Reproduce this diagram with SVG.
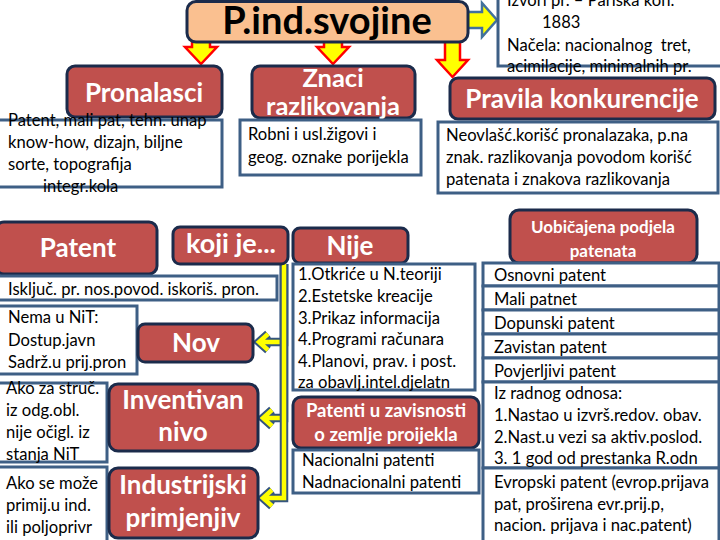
<svg xmlns="http://www.w3.org/2000/svg" width="720" height="540" viewBox="0 0 720 540">
<defs>
<style>
.red{fill:#C0504D;stroke:#1B2B4B;stroke-width:3}
.tb{fill:#FFFFFF;stroke:#3E5F85;stroke-width:3}
.h{font-family:Lato,"Liberation Sans",sans-serif;font-weight:bold;fill:#FFFFFF;text-anchor:middle}
.t{font-family:Lato,"Liberation Sans",sans-serif;font-size:16.6px;fill:#000000;white-space:pre}
.dn{fill:#FFFF00;stroke:#FF0000;stroke-width:2.5;stroke-linejoin:miter}
.co{fill:none;stroke:#34557F;stroke-width:8.5;stroke-linejoin:miter}
.ci{fill:none;stroke:#FFFF00;stroke-width:4.5;stroke-linejoin:miter}
</style>
</defs>
<rect width="720" height="540" fill="#FFFFFF"/>

<g id="connectors">
<polygon class="dn" points="192,41 210,41 210,47 217,47 201,64 185,47 192,47"/>
<polygon class="dn" points="324,41 342,41 342,47 349,47 333,64 317,47 324,47"/>
<polygon class="dn" points="445,41 460,41 460,60 468,60 452.5,77 437,60 445,60"/>
<polygon points="466,12 482,12 482,3 497,20 482,37 482,28 466,28" fill="#FFFF00" stroke="#41719C" stroke-width="2.5"/>
<path class="co" d="M284,264 V342 H259 M268,334 L259,342 L268,350"/>
<path class="ci" d="M284,264 V342 H259 M268,334 L259,342 L268,350"/>
<path class="co" d="M284,264 V418 H263 M272,410 L263,418 L272,426"/>
<path class="ci" d="M284,264 V418 H263 M272,410 L263,418 L272,426"/>
<path class="co" d="M284,264 V498 H263 M272,490 L263,498 L272,506"/>
<path class="ci" d="M284,264 V498 H263 M272,490 L263,498 L272,506"/>
</g>

<g id="title">
<rect x="187" y="1.5" width="281" height="40.5" rx="9" fill="#FAC090" stroke="#1B2B4B" stroke-width="3"/>
<text x="327" y="34" font-family="Lato,'Liberation Sans',sans-serif" font-weight="bold" font-size="38" text-anchor="middle" fill="#000000">P.ind.svojine</text>
</g>

<g id="izvori">
<rect x="498" y="-4" width="224" height="70" class="tb"/>
<text class="t" x="507" y="6">Izvori pr. – Pariska kon.</text>
<text class="t" x="542" y="28">1883</text>
<text class="t" x="507" y="51">Načela: nacionalnog  tret,</text>
<text class="t" x="507" y="72">acimilacije, minimalnih pr.</text>
</g>

<g id="pronalasci">
<rect x="67" y="66" width="155" height="51" rx="8" class="red"/>
<text class="h" x="144" y="102" font-size="26">Pronalasci</text>
</g>
<g id="pronalasci-tekst">
<rect x="-2" y="120" width="224" height="67" class="tb"/>
<text class="t" x="8" y="126">Patent, mali pat, tehn. unap</text>
<text class="t" x="8" y="148">know-how, dizajn, biljne</text>
<text class="t" x="8" y="170">sorte, topografija</text>
<text class="t" x="43" y="192">integr.kola</text>
</g>

<g id="znaci">
<rect x="252" y="66" width="163" height="52" rx="8" class="red"/>
<text class="h" x="333" y="87" font-size="25.5">Znaci</text>
<text class="h" x="333" y="115" font-size="25.5">razlikovanja</text>
</g>
<g id="znaci-tekst">
<rect x="240" y="120" width="181" height="55" class="tb"/>
<text class="t" x="248" y="140">Robni i usl.žigovi i</text>
<text class="t" x="248" y="163">geog. oznake porijekla</text>
</g>

<g id="pravila">
<rect x="450" y="78" width="265" height="41" rx="8" class="red"/>
<text class="h" x="582" y="108" font-size="26">Pravila konkurencije</text>
</g>
<g id="pravila-tekst">
<rect x="438" y="122" width="280" height="71" class="tb"/>
<text class="t" x="446" y="141">Neovlašć.korišć pronalazaka, p.na</text>
<text class="t" x="446" y="163">znak. razlikovanja povodom korišć</text>
<text class="t" x="446" y="185">patenata i znakova razlikovanja</text>
</g>

<g id="patent">
<rect x="-4" y="222" width="161" height="52" rx="8" class="red"/>
<text class="h" x="78" y="257" font-size="26">Patent</text>
</g>

<g id="koji-je">
<rect x="173" y="227" width="115" height="37" rx="7" class="red"/>
<text class="h" x="231" y="253" font-size="27">koji je...</text>
</g>

<g id="iskljuc">
<rect x="-2" y="276" width="279" height="24" class="tb"/>
<text class="t" x="8" y="295">Isključ. pr. nos.povod. iskoriš. pron.</text>
</g>

<g id="nema">
<rect x="-2" y="306" width="139" height="68" class="tb"/>
<text class="t" x="8" y="323">Nema u NiT:</text>
<text class="t" x="8" y="346">Dostup.javn</text>
<text class="t" x="8" y="368">Sadrž.u prij.pron</text>
</g>

<g id="nov">
<rect x="138" y="324" width="115" height="38" rx="7" class="red"/>
<text class="h" x="196" y="352" font-size="26">Nov</text>
</g>

<g id="ako-struc">
<rect x="-2" y="383" width="109" height="79" class="tb"/>
<text class="t" x="6" y="394">Ako za struč.</text>
<text class="t" x="6" y="416">iz odg.obl.</text>
<text class="t" x="6" y="438">nije očigl. iz</text>
<text class="t" x="6" y="460">stanja NiT</text>
</g>

<g id="inventivan">
<rect x="109" y="384" width="149" height="67" rx="9" class="red"/>
<text class="h" x="183" y="409" font-size="26">Inventivan</text>
<text class="h" x="183" y="441" font-size="26">nivo</text>
</g>

<g id="ako-moze">
<rect x="-2" y="467" width="109" height="76" class="tb"/>
<text class="t" x="6" y="489">Ako se može</text>
<text class="t" x="6" y="511">primij.u ind.</text>
<text class="t" x="6" y="533">ili poljoprivr</text>
</g>

<g id="industrijski">
<rect x="109" y="468" width="149" height="70" rx="9" class="red"/>
<text class="h" x="183" y="494" font-size="26">Industrijski</text>
<text class="h" x="183" y="527" font-size="26">primjenjiv</text>
</g>

<g id="nije">
<rect x="293" y="228" width="115" height="35" rx="7" class="red"/>
<text class="h" x="350" y="255" font-size="26">Nije</text>
</g>
<g id="nije-lista">
<rect x="293" y="264" width="182" height="126" class="tb"/>
<text class="t" x="298" y="280">1.Otkriće u N.teoriji</text>
<text class="t" x="298" y="302">2.Estetske kreacije</text>
<text class="t" x="298" y="324">3.Prikaz informacija</text>
<text class="t" x="298" y="345">4.Programi računara</text>
<text class="t" x="298" y="367">4.Planovi, prav. i post.</text>
<text class="t" x="298" y="388">za obavlj.intel.djelatn</text>
</g>

<g id="patenti-zavisnost">
<rect x="293" y="397" width="186" height="51" rx="8" class="red"/>
<text class="h" x="386" y="417" font-size="18.5">Patenti u zavisnosti</text>
<text class="h" x="386" y="441" font-size="18.5">o zemlje proijekla</text>
</g>
<g id="nacionalni">
<rect x="293" y="450" width="186" height="43" class="tb"/>
<text class="t" x="302" y="466">Nacionalni patenti</text>
<text class="t" x="302" y="488">Nadnacionalni patenti</text>
</g>

<g id="uobicajena">
<rect x="510" y="210" width="187" height="53" rx="9" class="red"/>
<text class="h" x="603" y="233" font-size="17">Uobičajena podjela</text>
<text class="h" x="603" y="257" font-size="17">patenata</text>
</g>
<g id="podjela-tabela">
<rect x="483" y="263" width="236" height="23" class="tb"/>
<rect x="483" y="286" width="236" height="24" class="tb"/>
<rect x="483" y="310" width="236" height="24" class="tb"/>
<rect x="483" y="334" width="236" height="24" class="tb"/>
<rect x="483" y="358" width="236" height="24" class="tb"/>
<rect x="483" y="382" width="236" height="86" class="tb"/>
<rect x="483" y="468" width="236" height="75" class="tb"/>
<text class="t" x="494" y="281">Osnovni patent</text>
<text class="t" x="494" y="305">Mali patnet</text>
<text class="t" x="494" y="329">Dopunski patent</text>
<text class="t" x="494" y="353">Zavistan patent</text>
<text class="t" x="494" y="377">Povjerljivi patent</text>
<text class="t" x="494" y="399">Iz radnog odnosa:</text>
<text class="t" x="494" y="421">1.Nastao u izvrš.redov. obav.</text>
<text class="t" x="494" y="443">2.Nast.u vezi sa aktiv.poslod.</text>
<text class="t" x="494" y="464">3. 1 god od prestanka R.odn</text>
<text class="t" x="494" y="488">Evropski patent (evrop.prijava</text>
<text class="t" x="494" y="510">pat, proširena evr.prij.p,</text>
<text class="t" x="494" y="531">nacion. prijava i nac.patent)</text>
</g>
</svg>
